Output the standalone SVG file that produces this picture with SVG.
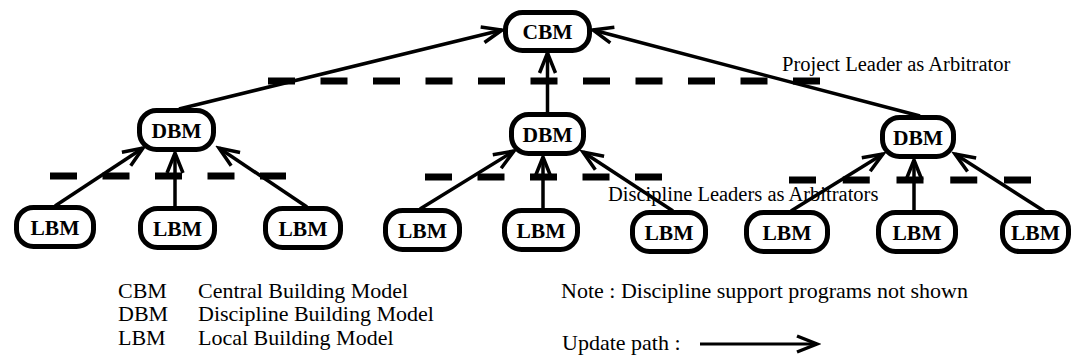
<svg xmlns="http://www.w3.org/2000/svg" width="1074" height="362" viewBox="0 0 1074 362">
<style>
.node rect{fill:#fff;stroke:#000;stroke-width:5}
.node text{font-family:"Liberation Serif","Times New Roman",serif;font-weight:bold;font-size:21.5px;text-anchor:middle;fill:#000}
.conn line{stroke:#000;stroke-width:3.5;fill:none}
.arr{marker-end:url(#ah)}
.dash{stroke:#000;stroke-width:7;stroke-dasharray:27 25.5}
.lbl{font-family:"Liberation Serif","Times New Roman",serif;font-size:20.5px;fill:#000}
.leg{font-family:"Liberation Serif","Times New Roman",serif;font-size:22px;fill:#000}
</style>
<defs>
<marker id="ah" markerUnits="userSpaceOnUse" markerWidth="26" markerHeight="22" viewBox="-22 -11 26 22" refX="0" refY="0" orient="auto">
<path d="M-20,-8 L0,0 L-20,8" fill="none" stroke="#000" stroke-width="3.5" stroke-linejoin="miter"/>
</marker>
</defs>
<rect width="1074" height="362" fill="#fff"/>

<g id="arbitration-lines">
<line class="dash" x1="268" y1="81" x2="821" y2="81"/>
<line class="dash" x1="50" y1="176" x2="286" y2="176"/>
<line class="dash" x1="425" y1="177" x2="664" y2="177"/>
<line class="dash" x1="789" y1="180" x2="1031" y2="180" style="stroke-dasharray:27 26.75"/>
</g>

<g id="connectors" class="conn">
<line class="arr" x1="179" y1="109" x2="502" y2="30"/>
<line class="arr" x1="920" y1="116" x2="593" y2="30"/>
<line class="arr" x1="547.5" y1="113" x2="547.5" y2="53"/>
<line class="arr" x1="55" y1="206" x2="143" y2="148"/>
<line class="arr" x1="175" y1="207" x2="175" y2="153"/>
<line class="arr" x1="307" y1="207" x2="219" y2="148"/>
<line class="arr" x1="420" y1="209" x2="514" y2="151"/>
<line class="arr" x1="543" y1="209" x2="543" y2="157"/>
<line class="arr" x1="673" y1="211" x2="583" y2="152"/>
<line class="arr" x1="791" y1="211" x2="883" y2="154"/>
<line class="arr" x1="914" y1="211" x2="914" y2="160"/>
<line class="arr" x1="1044" y1="211" x2="955" y2="154"/>
</g>

<g id="CBM" class="node"><rect x="505.5" y="12.5" width="84" height="38" rx="17"/><text x="547.5" y="39">CBM</text></g>
<g id="DBM1" class="node"><rect x="139.5" y="110.5" width="74" height="39" rx="17"/><text x="176.5" y="137.5">DBM</text></g>
<g id="DBM2" class="node"><rect x="511.5" y="114.5" width="72" height="39" rx="17"/><text x="547.5" y="141.5">DBM</text></g>
<g id="DBM3" class="node"><rect x="882.5" y="117.5" width="71" height="39" rx="17"/><text x="918" y="144.5">DBM</text></g>

<g id="LBM1" class="node"><rect x="16.5" y="207.5" width="77" height="39" rx="17"/><text x="55" y="234.5">LBM</text></g>
<g id="LBM2" class="node"><rect x="140.5" y="208.5" width="74" height="39" rx="17"/><text x="177.5" y="235.5">LBM</text></g>
<g id="LBM3" class="node"><rect x="265.5" y="208.5" width="75" height="39" rx="17"/><text x="303" y="235.5">LBM</text></g>
<g id="LBM4" class="node"><rect x="385.5" y="210.5" width="74" height="39" rx="17"/><text x="422.5" y="237.5">LBM</text></g>
<g id="LBM5" class="node"><rect x="504.5" y="210.5" width="73" height="39" rx="17"/><text x="541" y="237.5">LBM</text></g>
<g id="LBM6" class="node"><rect x="632.5" y="212.5" width="73" height="39" rx="17"/><text x="669" y="239.5">LBM</text></g>
<g id="LBM7" class="node"><rect x="746.5" y="212.5" width="81" height="39" rx="17"/><text x="787" y="239.5">LBM</text></g>
<g id="LBM8" class="node"><rect x="878.5" y="212.5" width="77" height="39" rx="17"/><text x="917" y="239.5">LBM</text></g>
<g id="LBM9" class="node"><rect x="1002.5" y="212.5" width="66" height="39" rx="17"/><text x="1035.5" y="239.5">LBM</text></g>

<g id="labels">
<text class="lbl" x="782" y="71">Project Leader as Arbitrator</text>
<text class="lbl" x="608" y="201">Discipline Leaders as Arbitrators</text>
</g>

<g id="legend">
<text class="leg" x="118" y="298">CBM</text>
<text class="leg" x="198" y="298">Central Building Model</text>
<text class="leg" x="118" y="321">DBM</text>
<text class="leg" x="198" y="321">Discipline Building Model</text>
<text class="leg" x="118" y="345">LBM</text>
<text class="leg" x="198" y="345">Local Building Model</text>
<text class="leg" x="561" y="298">Note : Discipline support programs not shown</text>
<text class="leg" x="562" y="350">Update path :</text>
<line x1="700" y1="344" x2="817" y2="344" stroke="#000" stroke-width="3" marker-end="url(#ah)"/>
</g>
</svg>
